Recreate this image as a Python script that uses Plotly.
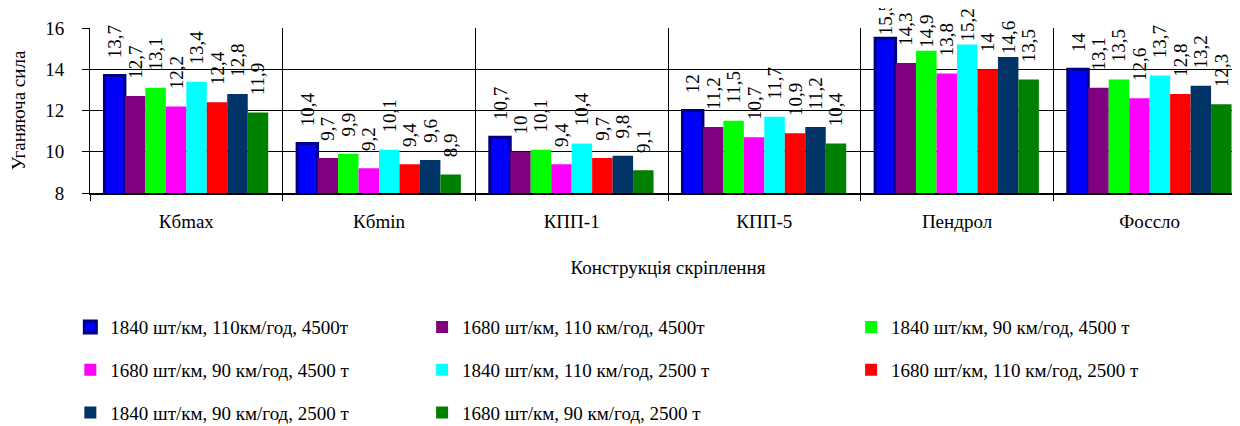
import plotly.graph_objects as go

categories = ["Кбmax", "Кбmin", "КПП-1", "КПП-5", "Пендрол", "Фоссло"]

series_names = [
    "1840 шт/км, 110км/год, 4500т",
    "1680 шт/км, 110 км/год, 4500т",
    "1840 шт/км, 90 км/год, 4500 т",
    "1680 шт/км, 90 км/год, 4500 т",
    "1840 шт/км, 110 км/год, 2500 т",
    "1680 шт/км, 110 км/год, 2500 т",
    "1840 шт/км, 90 км/год, 2500 т",
    "1680 шт/км, 90 км/год, 2500 т",
]

s1 = [13.7, 10.4, 10.7, 12.0, 15.5, 14.0]
s2 = [12.7, 9.7, 10.0, 11.2, 14.3, 13.1]
s3 = [13.1, 9.9, 10.1, 11.5, 14.9, 13.5]
s4 = [12.2, 9.2, 9.4, 10.7, 13.8, 12.6]
s5 = [13.4, 10.1, 10.4, 11.7, 15.2, 13.7]
s6 = [12.4, 9.4, 9.7, 10.9, 14.0, 12.8]
s7 = [12.8, 9.6, 9.8, 11.2, 14.6, 13.2]
s8 = [11.9, 8.9, 9.1, 10.4, 13.5, 12.3]

series_values = [s1, s2, s3, s4, s5, s6, s7, s8]

colors = ["#0000FF", "#800080", "#00FF00", "#FF00FF", "#00FFFF", "#FF0000", "#003366", "#008000"]
line_colors = ["#000080", "#800080", "#00FF00", "#FF00FF", "#00FFFF", "#FF0000", "#003366", "#008000"]
line_widths = [3, 0, 0, 0, 0, 0, 0, 0]
legend_ids = ["legend", "legend2", "legend3"]

FONT = "Liberation Serif, Times New Roman, serif"
FS = 19
FIT_LIMIT = 14.6  # labels of taller bars sit closer to the bar so they stay in view


def fmt(v):
    s = ("%g" % v).replace(".", ",")
    pad = "" if v >= FIT_LIMIT else "\u00a0\u00a0\u00a0"
    return pad + s


fig = go.Figure()
for i, (name, vals) in enumerate(zip(series_names, series_values)):
    fig.add_trace(go.Bar(
        x=categories, y=vals, name=name,
        marker=dict(color=colors[i], line=dict(color=line_colors[i], width=line_widths[i])),
        text=[fmt(v) for v in vals],
        textposition="outside", textangle=-90,
        textfont=dict(family=FONT, size=FS, color="black"),
        constraintext="none", cliponaxis=False,
        legend=legend_ids[i % 3], legendgroup="g%d" % i,
    ))

leg_common = dict(orientation="v", xanchor="left", yanchor="top", y=-0.698,
                  font=dict(family=FONT, size=FS, color="black"),
                  bgcolor="rgba(0,0,0,0)", tracegroupgap=15, itemclick=False)

fig.update_layout(
    width=1240, height=426,
    margin=dict(l=82, r=2, t=20, b=232),
    paper_bgcolor="white", plot_bgcolor="white",
    barmode="group", bargap=0.15, bargroupgap=0,
    font=dict(family=FONT, size=FS, color="black"),
    showlegend=True,
    legend=dict(x=-0.017, **leg_common),
    legend2=dict(x=0.2873, **leg_common),
    legend3=dict(x=0.6584, **leg_common),
)

fig.update_xaxes(
    tickson="boundaries", ticks="outside", ticklen=6, tickcolor="black",
    showgrid=True, gridcolor="black", gridwidth=1,
    showline=True, linecolor="black", linewidth=2,
    tickfont=dict(family=FONT, size=FS, color="black"),
    ticklabelstandoff=10,
    title=dict(text="Конструкція скріплення", font=dict(family=FONT, size=FS, color="black"), standoff=30),
)
fig.update_yaxes(
    range=[8, 16], dtick=2, ticks="outside", ticklen=7, tickcolor="black",
    showgrid=True, gridcolor="black", gridwidth=1,
    showline=True, linecolor="black", linewidth=1, zeroline=False,
    tickfont=dict(family=FONT, size=FS, color="black"),
    ticklabelstandoff=14,
    title=dict(text="Уганяюча сила", font=dict(family=FONT, size=FS, color="black"), standoff=16),
)

fig.write_html("out.html")
